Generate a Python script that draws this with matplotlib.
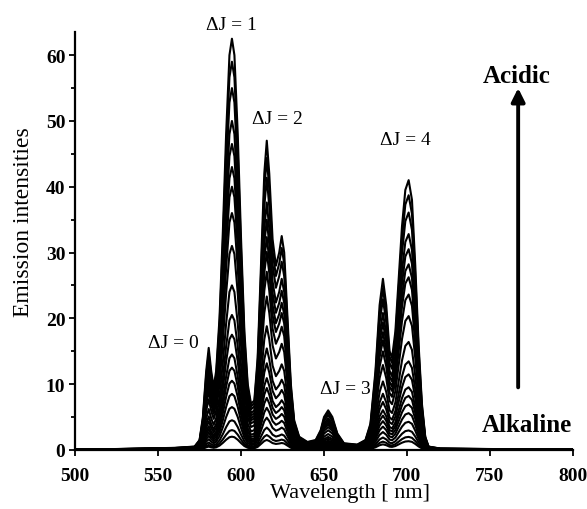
"""
Emission spectra of the Eu(III) probe from alkaline to acidic solution.
"""

import numpy as np
import matplotlib
matplotlib.use('Agg')
import matplotlib.pyplot as plt
from matplotlib.ticker import MultipleLocator

# Most acidic (top) spectrum
wavelength = [500, 560, 572, 575, 577, 579, 580.5, 582, 583.5, 585, 587, 589, 591,
              593, 594.5, 596, 598, 600, 602, 604, 606, 608, 610, 612, 614, 615.5,
              617, 619, 621, 623, 624.5, 626, 628, 630, 632, 635, 640, 645, 648,
              650, 652.5, 655, 658, 662, 670, 675, 678, 681, 683.5, 685.5, 687.5,
              689.5, 691, 693, 695, 697, 699, 701, 703, 705, 707, 709, 711, 713,
              720, 800]
top_intensity = [0, 0.3, 0.5, 1.5, 5, 12, 15.5, 12, 9.5, 12, 20, 33, 48,
                 60, 62.5, 60, 48, 32, 18, 10, 7, 7.5, 14, 28, 42, 47,
                 42, 32, 28, 30, 32.5, 30, 20, 10, 4.5, 2, 1.2, 1.5, 3,
                 5, 6, 5, 2.5, 1, 0.8, 1.5, 4, 12, 22, 26, 22,
                 15, 14, 18, 26, 34, 39.5, 41, 38, 28, 16, 7, 2, 0.5,
                 0.2, 0]

# Peak heights at the 594 nm band for each recorded spectrum
peak_heights = [62.5, 59, 55, 50, 46.5, 43, 40, 36, 31, 25, 20.5, 17.5,
                14.5, 12.5, 10.5, 8.5, 6.5, 4.5, 3, 2]

band_labels = ['\u0394J = 0', '\u0394J = 1', '\u0394J = 2', '\u0394J = 3', '\u0394J = 4']
band_label_pos = [(559, 16.3), (594.3, 64.6), (621.7, 50.3), (662.6, 9.4), (698.8, 47.2)]

serif = ['Liberation Serif', 'DejaVu Serif']
plt.rcParams['font.family'] = serif

fig = plt.figure(figsize=(5.87, 5.10), dpi=100)
ax = fig.add_axes([0.128, 0.116, 0.848, 0.819])

wl = np.array(wavelength)
base = np.array(top_intensity)
for h in peak_heights:
    ax.plot(wl, base * h / peak_heights[0], color='black', linewidth=1.5)

for text, (x, y) in zip(band_labels, band_label_pos):
    ax.text(x, y, text, ha='center', va='center', fontsize=14, clip_on=False)

# pH direction arrow
ax.annotate('', xy=(767, 55.0), xytext=(767, 9.5),
            arrowprops=dict(arrowstyle='-|>', color='black', lw=2.8,
                            mutation_scale=20, shrinkA=0, shrinkB=0))
ax.text(766, 56.9, 'Acidic', ha='center', va='center', fontsize=18, fontweight='bold')
ax.text(772, 3.9, 'Alkaline', ha='center', va='center', fontsize=18, fontweight='bold')

ax.set_xlim(500, 800)
ax.set_ylim(0, 63.5)
ax.xaxis.set_major_locator(MultipleLocator(50))
ax.yaxis.set_major_locator(MultipleLocator(10))
ax.yaxis.set_minor_locator(MultipleLocator(5))
ax.spines['top'].set_visible(False)
ax.spines['right'].set_visible(False)
for side in ['left', 'bottom']:
    ax.spines[side].set_linewidth(1.6)
ax.tick_params(which='both', direction='out', width=1.3, labelsize=14)
ax.tick_params(which='major', length=4)
ax.tick_params(which='minor', length=3)
ax.tick_params(axis='x', pad=8)
ax.tick_params(axis='y', pad=3)
for lab in ax.get_xticklabels() + ax.get_yticklabels():
    lab.set_fontweight('bold')

ax.set_xlabel('Wavelength [ nm]', fontsize=16, va='center')
ax.set_ylabel('Emission intensities', fontsize=17, va='center')
ax.xaxis.set_label_coords(0.552, -0.102)
ax.yaxis.set_label_coords(-0.104, 0.548)

fig.savefig('out.png', dpi=100)
